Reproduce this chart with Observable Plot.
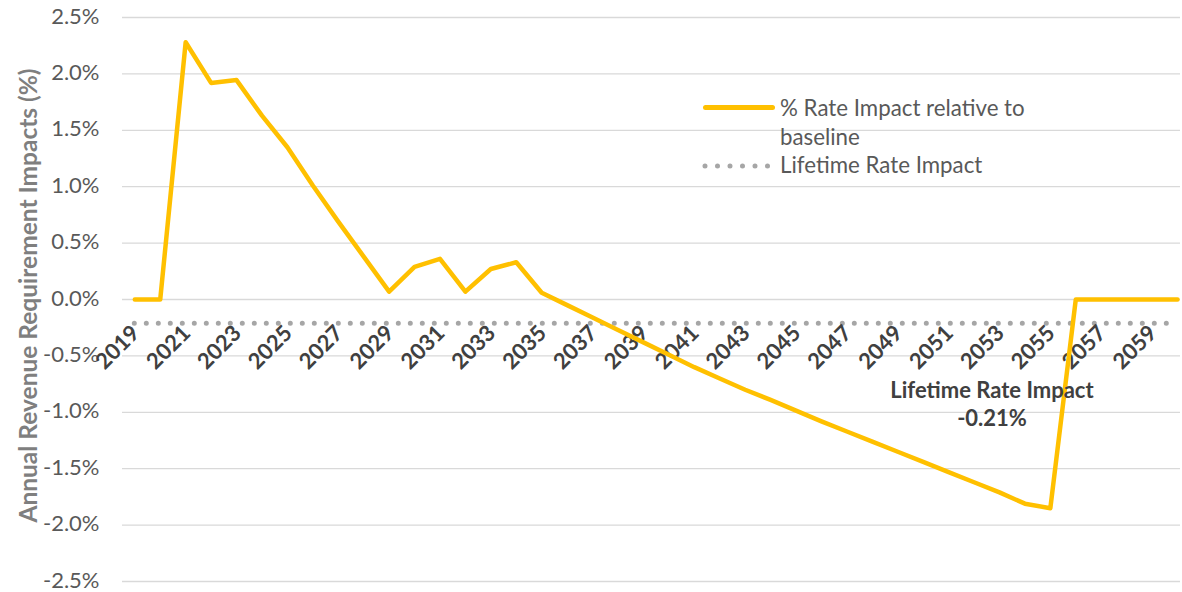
<!DOCTYPE html>
<html>
<head>
<meta charset="utf-8">
<script src="https://cdn.jsdelivr.net/npm/d3@7"></script>
<script src="https://cdn.jsdelivr.net/npm/@observablehq/plot@0.6"></script>
<style>
  html, body { margin: 0; padding: 0; background: #fff; }
  #wrap { position: relative; width: 1182px; height: 592px; font-family: Lato, "Open Sans", sans-serif; }
  #chart svg { display: block; }
  .legend-text { position: absolute; left: 780px; top: 94px; font-size: 22.3px; line-height: 28.6px; color: #595959; white-space: nowrap; }
  .swatch-line { position: absolute; left: 703px; top: 105px; width: 72px; height: 5px; background: #FFC000; border-radius: 2.5px; }
  .swatch-dots { position: absolute; left: 700px; top: 160px; }
  .anno { position: absolute; left: 842px; width: 300px; top: 376px; text-align: center; font-size: 22px; font-weight: bold; line-height: 28.3px; color: #404040; }
</style>
</head>
<body>
<div id="wrap">
  <div id="chart"></div>
  <div class="swatch-line"></div>
  <svg class="swatch-dots" width="75" height="12"><line x1="5" x2="68" y1="6" y2="6" stroke="#a6a6a6" stroke-width="5" stroke-linecap="round" stroke-dasharray="0,12.5"></line></svg>
  <div class="legend-text" id="legend"></div>
  <div class="anno" id="anno"></div>
</div>
<script>
const years = [2019,2020,2021,2022,2023,2024,2025,2026,2027,2028,2029,2030,2031,2032,2033,2034,2035,2036,2037,2038,2039,2040,2041,2042,2043,2044,2045,2046,2047,2048,2049,2050,2051,2052,2053,2054,2055,2056,2057,2058,2059,2060];
const rateImpact = [0,0,2.28,1.92,1.945,1.63,1.35,1.01,0.69,0.38,0.07,0.29,0.36,0.07,0.27,0.33,0.06,-0.05,-0.16,-0.27,-0.38,-0.49,-0.60,-0.70,-0.80,-0.89,-0.985,-1.08,-1.17,-1.26,-1.35,-1.44,-1.53,-1.62,-1.71,-1.81,-1.85,0,0,0,0,0];
const lifetimeImpact = -0.21;
const xTickYears = [2019,2021,2023,2025,2027,2029,2031,2033,2035,2037,2039,2041,2043,2045,2047,2049,2051,2053,2055,2057,2059];
const yTicks = [-2.5,-2.0,-1.5,-1.0,-0.5,0.0,0.5,1.0,1.5,2.0,2.5];
const seriesName = "% Rate Impact relative to baseline";
const lifetimeName = "Lifetime Rate Impact";
const yTitle = "Annual Revenue Requirement Impacts (%)";

const data = years.map((y, i) => ({year: y, value: rateImpact[i]}));
const lifetimeLine = [{y: lifetimeImpact, x1: years[0], x2: years[years.length - 1]}];

const chart = Plot.plot({
  width: 1182,
  height: 592,
  marginLeft: 122,
  marginRight: 2,
  marginTop: 17,
  marginBottom: 11,
  style: {fontFamily: "Lato, 'Open Sans', sans-serif", background: "transparent"},
  x: {type: "linear", domain: [years[0], years[years.length - 1]], range: [134.3, 1177], axis: null},
  y: {domain: [-2.5, 2.5], axis: null},
  marks: [
    Plot.ruleY(yTicks, {stroke: "#d9d9d9", strokeWidth: 1.3}),
    Plot.text(yTicks, {
      y: d => d, frameAnchor: "left", dx: -23, dy: -1, textAnchor: "end", lineAnchor: "middle",
      text: d => d.toFixed(1) + "%", fontSize: 22, fill: "#595959"
    }),
    Plot.ruleY(lifetimeLine, {y: "y", x1: "x1", x2: "x2", stroke: "#a6a6a6", strokeWidth: 5, strokeLinecap: "round", strokeDasharray: "0,12"}),
    Plot.text(xTickYears, {
      x: d => d, y: () => 0, text: d => String(d), rotate: -45,
      textAnchor: "middle", lineAnchor: "middle", dx: -17, dy: 48,
      fontSize: 22, fontWeight: "bold", fill: "#404040"
    }),
    Plot.line(data, {x: "year", y: "value", stroke: "#FFC000", strokeWidth: 4.5, strokeLinejoin: "round", strokeLinecap: "round"}),
    Plot.text([yTitle], {
      frameAnchor: "left", rotate: -90, dx: -93, dy: -4, text: d => d,
      textAnchor: "middle", lineAnchor: "middle", fontSize: 24.5, fontWeight: "bold", fill: "#7f7f7f"
    })
  ]
});
document.getElementById("chart").appendChild(chart);
document.getElementById("legend").innerHTML = "% Rate Impact relative to<br>baseline<br>" + lifetimeName;
document.getElementById("anno").innerHTML = lifetimeName + "<br>" + lifetimeImpact.toFixed(2) + "%";
</script>
</body>
</html>
